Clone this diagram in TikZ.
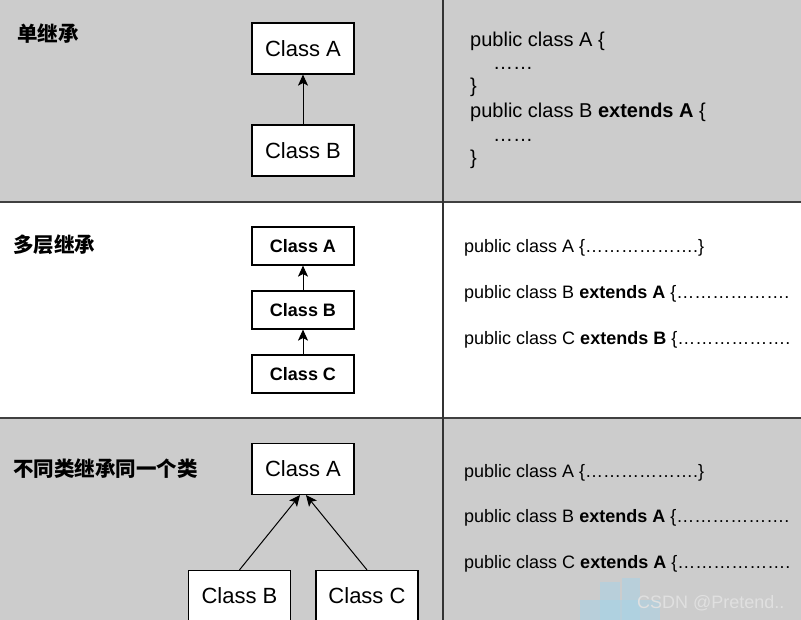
\documentclass[tikz,border=0pt]{standalone}
\usepackage{fontspec}
\setmainfont{Liberation Sans}
\newfontfamily\cjk{Noto Sans CJK SC}
\usetikzlibrary{arrows.meta}
\definecolor{panelgray}{HTML}{CCCCCC}
\definecolor{wmblue}{HTML}{A9D3E6}
\begin{document}
\begin{tikzpicture}[x=1pt,y=-1pt,
  cls/.style={draw=black, line width=1.2pt, fill=white, minimum width=102pt, minimum height=51pt, inner sep=0pt, font=\fontsize{22}{26}\selectfont},
  clsb/.style={cls, minimum height=38pt, font=\fontsize{18}{22}\selectfont\bfseries},
  inh/.style={-{Stealth[length=11pt,width=10pt,inset=2.5pt]}, line width=1pt},
  title/.style={anchor=base west, inner sep=0pt, font=\cjk\bfseries\fontsize{20.5}{24}\selectfont},
  code/.style={anchor=base west, inner sep=0pt, font=\fontsize{20}{24}\selectfont},
  codes/.style={anchor=base west, inner sep=0pt, font=\fontsize{18}{22}\selectfont},
  divider/.style={draw=black!75, line width=1.6pt}]
\path[clip] (0,0) rectangle (801,620);
% panel backgrounds
\fill[panelgray] (0,0) rectangle (801,202);
\fill[white] (0,202) rectangle (801,418);
\fill[panelgray] (0,418) rectangle (801,620);
% dividers
\draw[divider] (0,202) -- (801,202);
\draw[divider] (0,418) -- (801,418);
\draw[draw=black!80, line width=1.3pt] (443,0) -- (443,620);

% ---------- panel 1 ----------
\node[title] (t1) at (17,42) {单继承};
\node[cls] (a1) at (303,48.5) {Class A};
\node[cls] (b1) at (303,150.5) {Class B};
\draw[inh] (b1.north) -- (a1.south);
\node[code] (p1l1) at (470,47) {public class A \{};
\node[code] (p1l2) at (493,70) {……};
\node[code] (p1l3) at (470,93) {\}};
\node[code] (p1l4) at (470,118) {public class B \textbf{extends A} \{};
\node[code] (p1l5) at (493,142) {……};
\node[code] (p1l6) at (470,165) {\}};

% ---------- panel 2 ----------
\node[title] (t2) at (13,253) {多层继承};
\node[clsb] (a2) at (303,246) {Class A};
\node[clsb] (b2) at (303,310) {Class B};
\node[clsb] (c2) at (303,374) {Class C};
\draw[inh] (b2.north) -- (a2.south);
\draw[inh] (c2.north) -- (b2.south);
\node[codes] (p2l1) at (464,253) {public class A \{……………….\}};
\node[codes] (p2l2) at (464,299) {public class B \textbf{extends A} \{……………….};
\node[codes] (p2l3) at (464,345) {public class C \textbf{extends B} \{……………….};

% ---------- panel 3 ----------
\node[title] (t3) at (13,476) {不同类继承同一个类};
\node[cls] (a3) at (303,469) {Class A};
\node[cls] (b3) at (239.5,596) {Class B};
\node[cls] (c3) at (367,596) {Class C};
\draw[inh] (b3.north) -- ([xshift=-3pt]a3.south);
\draw[inh] (c3.north) -- ([xshift=3pt]a3.south);
\node[codes] (p3l1) at (464,477) {public class A \{……………….\}};
\node[codes] (p3l2) at (464,522) {public class B \textbf{extends A} \{……………….};
\node[codes] (p3l3) at (464,568) {public class C \textbf{extends A} \{……………….};

% watermark
\fill[wmblue, opacity=0.55] (580,600) rectangle (660,620);
\fill[wmblue, opacity=0.55] (600,582) rectangle (620,620);
\fill[wmblue, opacity=0.55] (622,578) rectangle (640,620);
\node[anchor=base west, inner sep=0pt, text=white!88!black, font=\fontsize{18}{22}\selectfont] (wm) at (637,608) {CSDN @Pretend..};
\end{tikzpicture}
\end{document}
